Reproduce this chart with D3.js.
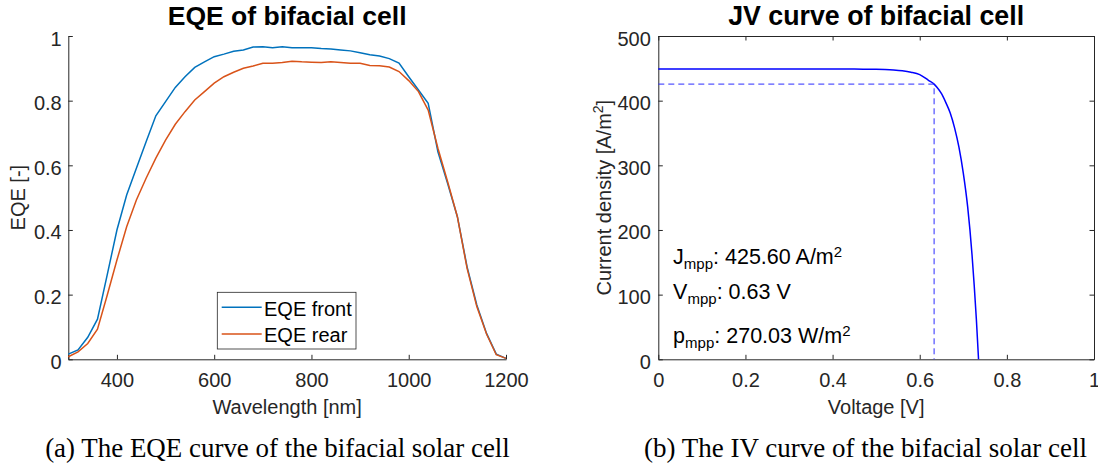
<!DOCTYPE html>
<html>
<head>
<meta charset="utf-8">
<script src="https://cdn.jsdelivr.net/npm/d3@7"></script>
<style>
  body { margin: 0; background: #fff; }
  svg { display: block; font-family: "Liberation Sans", Arial, Helvetica, sans-serif; }
  .axis text { font-size: 20px; fill: #262626; font-family: "Liberation Sans", Arial, sans-serif; }
  .axis path, .axis line { stroke: #262626; }
</style>
</head>
<body>
<svg id="chart"></svg>
<script>
var width = 1098;
var height = 469;

// EQE curve (left panel)
var wavelength = [300, 320, 340, 360, 380, 400, 420, 440, 460, 480, 500, 520, 540, 560, 580,
  600, 620, 640, 660, 680, 700, 720, 740, 760, 780, 800, 820, 840, 860, 880, 900, 920, 940,
  960, 980, 1000, 1020, 1040, 1060, 1080, 1100, 1120, 1140, 1160, 1180, 1200];
var eqeFront = [0.016, 0.029, 0.068, 0.124, 0.261, 0.400, 0.508, 0.591, 0.673, 0.753, 0.797,
  0.841, 0.874, 0.903, 0.920, 0.936, 0.944, 0.953, 0.957, 0.966, 0.967, 0.964, 0.967, 0.964,
  0.964, 0.964, 0.961, 0.960, 0.957, 0.954, 0.948, 0.942, 0.938, 0.930, 0.916, 0.874, 0.833,
  0.792, 0.642, 0.544, 0.441, 0.286, 0.168, 0.080, 0.016, 0.003];
var eqeRear = [0.008, 0.023, 0.049, 0.093, 0.198, 0.307, 0.410, 0.493, 0.560, 0.622, 0.678,
  0.727, 0.766, 0.802, 0.828, 0.854, 0.874, 0.888, 0.900, 0.907, 0.916, 0.916, 0.918, 0.922,
  0.920, 0.919, 0.918, 0.920, 0.918, 0.916, 0.916, 0.909, 0.908, 0.904, 0.890, 0.862, 0.828,
  0.771, 0.653, 0.549, 0.441, 0.281, 0.163, 0.078, 0.014, 0.003];
var eqeSeries = ["EQE front", "EQE rear"];
var eqeColors = ["#0072BD", "#D95319"];
var wlTicks = [400, 600, 800, 1000, 1200];
var eqeTicks = [0, 0.2, 0.4, 0.6, 0.8, 1];

// JV curve (right panel)
var voltage = [0, 0.1, 0.2, 0.3, 0.4, 0.45, 0.5, 0.52, 0.54, 0.56, 0.58, 0.6, 0.62, 0.633,
  0.64, 0.65, 0.66, 0.67, 0.68, 0.69, 0.7, 0.71, 0.72, 0.725, 0.73, 0.735];
var current = [449, 449, 449, 449, 448.9, 448.8, 448.5, 448.1, 447.4, 446.2, 444, 440.2,
  431.5, 425.6, 420.3, 410.8, 397, 381, 358, 328, 288, 236, 162, 115, 62, 0];
var mpp = { v: 0.633, j: 425.6 };
var vTicks = [0, 0.2, 0.4, 0.6, 0.8, 1];
var jTicks = [0, 100, 200, 300, 400, 500];
var mppLabels = [
  { name: "J", sub: "mpp", text: ": 425.60 A/m", sup: "2", y: 148 },
  { name: "V", sub: "mpp", text: ": 0.63 V", sup: "", y: 94 },
  { name: "p", sub: "mpp", text: ": 270.03 W/m", sup: "2", y: 25 }
];

var titles = ["EQE of bifacial cell", "JV curve of bifacial cell"];
var captions = ["(a) The EQE curve of the bifacial solar cell", "(b) The IV curve of the bifacial solar cell"];

var svg = d3.select("#chart").attr("width", width).attr("height", height);

// fit a text element to a width by scaling its font size
function fitWidth(sel, w) {
  var len = sel.node().getComputedTextLength();
  var fs = parseFloat(sel.style("font-size"));
  sel.style("font-size", (fs * w / len) + "px");
}

// ---------- left panel ----------
var x1 = d3.scaleLinear().domain([300, 1200]).range([68.3, 506]);
var y1 = d3.scaleLinear().domain([0, 1]).range([359.3, 36]);

var g1 = svg.append("g");

g1.append("g").attr("class", "axis")
  .attr("transform", "translate(0," + y1(0) + ")")
  .call(d3.axisBottom(x1).tickValues([300].concat(wlTicks)).tickSizeInner(-4.5).tickSizeOuter(0).tickPadding(14)
    .tickFormat(function(d) { return d == 300 ? "" : d; }));
g1.append("g").attr("class", "axis")
  .attr("transform", "translate(" + x1(300) + ",0)")
  .call(d3.axisLeft(y1).tickValues(eqeTicks).tickSizeInner(-4.5).tickSizeOuter(0).tickPadding(6.6)
    .tickFormat(d3.format("")))
  .selectAll("text").attr("dy", "0.45em");

var line1 = d3.line()
  .x(function(d, i) { return x1(wavelength[i]); })
  .y(function(d) { return y1(d); });

[eqeFront, eqeRear].forEach(function(s, k) {
  g1.append("path")
    .attr("d", line1(s))
    .attr("fill", "none")
    .attr("stroke", eqeColors[k])
    .attr("stroke-width", 1.5);
});

// legend
var lg = g1.append("g").attr("transform", "translate(217.3,292.3)");
lg.append("rect").attr("width", 138.7).attr("height", 56.7)
  .attr("fill", "#fff").attr("stroke", "#262626").attr("stroke-width", 0.8);
eqeSeries.forEach(function(name, k) {
  var yy = 15 + k * 26.7;
  lg.append("line").attr("x1", 4.4).attr("x2", 44.4).attr("y1", yy).attr("y2", yy)
    .attr("stroke", eqeColors[k]).attr("stroke-width", 1.5);
  lg.append("text").attr("x", 46.7).attr("y", yy + 8.5)
    .style("font-size", "20px").attr("fill", "#000").text(name);
});

g1.append("text").attr("x", (x1(300) + x1(1200)) / 2).attr("y", 414)
  .attr("text-anchor", "middle").style("font-size", "20px").attr("fill", "#262626")
  .text("Wavelength [nm]");
g1.append("text").attr("transform", "translate(25," + (y1(0) + y1(1)) / 2 + ") rotate(-90)")
  .attr("text-anchor", "middle").style("font-size", "20px").attr("fill", "#262626")
  .text("EQE [-]");

var t1 = g1.append("text").attr("x", (x1(300) + x1(1200)) / 2).attr("y", 25)
  .attr("text-anchor", "middle").style("font-size", "26px").style("font-weight", "bold")
  .attr("fill", "#000").text(titles[0]);
fitWidth(t1, 239);

// ---------- right panel ----------
var x2 = d3.scaleLinear().domain([0, 1]).range([658.3, 1094]);
var y2 = d3.scaleLinear().domain([0, 500]).range([359.3, 36]);
var g2 = svg.append("g");

g2.append("g").attr("class", "axis")
  .attr("transform", "translate(0," + y2(0) + ")")
  .call(d3.axisBottom(x2).tickValues(vTicks).tickSizeInner(-4.5).tickSizeOuter(0).tickPadding(14)
    .tickFormat(d3.format("")));
g2.append("g").attr("class", "axis")
  .attr("transform", "translate(0," + y2(500) + ")")
  .call(d3.axisTop(x2).tickValues(vTicks).tickSizeInner(-4.5).tickSizeOuter(0).tickFormat(""));
g2.append("g").attr("class", "axis")
  .attr("transform", "translate(" + x2(0) + ",0)")
  .call(d3.axisLeft(y2).tickValues(jTicks).tickSizeInner(-4.5).tickSizeOuter(0).tickPadding(7.5))
  .selectAll("text").attr("dy", "0.45em");
g2.append("g").attr("class", "axis")
  .attr("transform", "translate(" + x2(1) + ",0)")
  .call(d3.axisRight(y2).tickValues(jTicks).tickSizeInner(-4.5).tickSizeOuter(0).tickFormat(""));

var line2 = d3.line()
  .x(function(d, i) { return x2(voltage[i]); })
  .y(function(d) { return y2(d); })
  .curve(d3.curveMonotoneX);

g2.append("path").attr("d", line2(current))
  .attr("fill", "none").attr("stroke", "#0000FF").attr("stroke-width", 1.5);

g2.append("path")
  .attr("d", "M" + x2(0) + "," + y2(mpp.j) + "H" + x2(mpp.v) + "V" + y2(0))
  .attr("fill", "none").attr("stroke", "#2a2aff").attr("stroke-width", 1)
  .attr("stroke-dasharray", "6,4");

mppLabels.forEach(function(m) {
  var t = g2.append("text").attr("x", x2(0.034)).attr("y", y2(m.y))
    .style("font-size", "21.5px").attr("fill", "#000");
  t.append("tspan").text(m.name);
  t.append("tspan").style("font-size", "15px").attr("dy", 5).text(m.sub);
  t.append("tspan").attr("dy", -5).text(m.text);
  if (m.sup) t.append("tspan").style("font-size", "15px").attr("dy", -7).text(m.sup);
});

g2.append("text").attr("x", (x2(0) + x2(1)) / 2).attr("y", 414)
  .attr("text-anchor", "middle").style("font-size", "20px").attr("fill", "#262626")
  .text("Voltage [V]");
var yl = g2.append("text").attr("transform", "translate(610.5," + (y2(0) + y2(500)) / 2 + ") rotate(-90)")
  .attr("text-anchor", "middle").style("font-size", "20px").attr("fill", "#262626");
yl.append("tspan").text("Current density [A/m");
yl.append("tspan").style("font-size", "14px").attr("dy", -8).text("2");
yl.append("tspan").attr("dy", 8).text("]");

var t2 = g2.append("text").attr("x", (x2(0) + x2(1)) / 2).attr("y", 25)
  .attr("text-anchor", "middle").style("font-size", "26px").style("font-weight", "bold")
  .attr("fill", "#000").text(titles[1]);
fitWidth(t2, 296);

// ---------- captions ----------
var capX = [277.5, 865.5];
var capW = [465, 443];
captions.forEach(function(c, k) {
  var t = svg.append("text").attr("x", capX[k]).attr("y", 456.7)
    .attr("text-anchor", "middle")
    .style("font-family", "'Liberation Serif', 'DejaVu Serif', serif")
    .style("font-size", "22px").attr("fill", "#000").text(c);
  fitWidth(t, capW[k]);
});
</script>
</body>
</html>
